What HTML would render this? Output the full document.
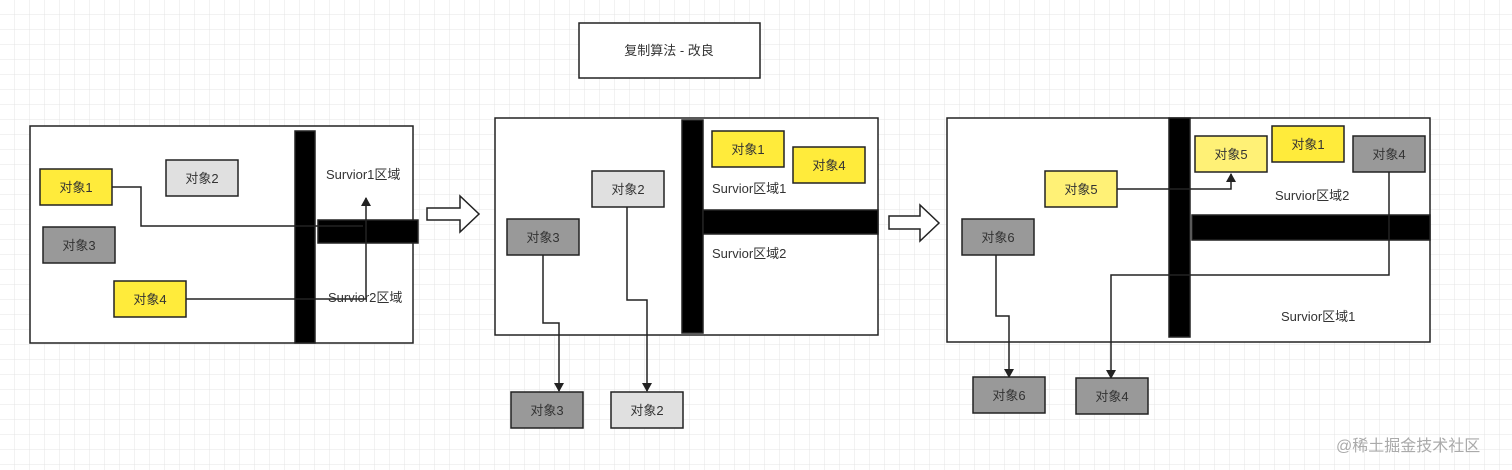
<!DOCTYPE html>
<html><head><meta charset="utf-8"><style>
html,body{margin:0;padding:0;width:1512px;height:470px;overflow:hidden;background:#fff;}
svg{display:block}
text{font-family:"Liberation Sans","Noto Sans CJK SC",sans-serif;font-size:13px;fill:#333;}
</style></head><body>
<svg width="1512" height="470" xmlns="http://www.w3.org/2000/svg">
<defs>
<pattern id="g" width="15" height="15" patternUnits="userSpaceOnUse">
<path d="M15 0V15H0" fill="none" stroke="#e4e4e4" stroke-width="1"/>
</pattern>
<marker id="a" markerWidth="10" markerHeight="10" refX="8" refY="5" orient="auto" markerUnits="userSpaceOnUse">
<path d="M0,0 L9,5 L0,10 Z" fill="#222"/>
</marker>
</defs>
<rect width="1512" height="470" fill="url(#g)"/>
<g stroke="#222" stroke-width="1.5">
<!-- title -->
<rect x="579" y="23" width="181" height="55" fill="#fff"/>
<!-- panel 1 -->
<rect x="30" y="126" width="383" height="217" fill="#fff"/>
<rect x="295" y="131" width="20" height="212" fill="#000"/>
<rect x="318" y="220" width="100" height="23" fill="#000"/>
<rect x="40" y="169" width="72" height="36" fill="#ffeb3b"/>
<rect x="166" y="160" width="72" height="36" fill="#e0e0e0"/>
<rect x="43" y="227" width="72" height="36" fill="#999"/>
<rect x="114" y="281" width="72" height="36" fill="#ffeb3b"/>
<path d="M112,187H141V226H363" fill="none"/>
<path d="M186,299H366V198" fill="none" marker-end="url(#a)"/>
<!-- arrows -->
<path d="M427,208H460V196L479,214L460,232V220H427Z" fill="#fff"/>
<path d="M889,216H920V205L939,223L920,241V229H889Z" fill="#fff"/>
<!-- panel 2 -->
<rect x="495" y="118" width="383" height="217" fill="#fff"/>
<rect x="682" y="120" width="21" height="213" fill="#000"/>
<rect x="703" y="210" width="175" height="24" fill="#000"/>
<rect x="712" y="131" width="72" height="36" fill="#ffeb3b"/>
<rect x="793" y="147" width="72" height="36" fill="#ffeb3b"/>
<rect x="592" y="171" width="72" height="36" fill="#e0e0e0"/>
<rect x="507" y="219" width="72" height="36" fill="#999"/>
<path d="M543,255V323H559V391" fill="none" marker-end="url(#a)"/>
<path d="M627,207V300H647V391" fill="none" marker-end="url(#a)"/>
<rect x="511" y="392" width="72" height="36" fill="#999"/>
<rect x="611" y="392" width="72" height="36" fill="#e0e0e0"/>
<!-- panel 3 -->
<rect x="947" y="118" width="483" height="224" fill="#fff"/>
<rect x="1169" y="118" width="21" height="219" fill="#000"/>
<rect x="1192" y="215" width="238" height="25" fill="#000"/>
<rect x="1195" y="136" width="72" height="36" fill="#fff176"/>
<rect x="1272" y="126" width="72" height="36" fill="#ffeb3b"/>
<rect x="1353" y="136" width="72" height="36" fill="#999"/>
<rect x="1045" y="171" width="72" height="36" fill="#fff176"/>
<rect x="962" y="219" width="72" height="36" fill="#999"/>
<path d="M1117,189H1231V174" fill="none" marker-end="url(#a)"/>
<path d="M996,255V316H1009V377" fill="none" marker-end="url(#a)"/>
<path d="M1389,172V275H1111V378" fill="none" marker-end="url(#a)"/>
<rect x="973" y="377" width="72" height="36" fill="#999"/>
<rect x="1076" y="378" width="72" height="36" fill="#999"/>
</g>
<g text-anchor="middle">
<text x="669" y="55">复制算法 - 改良</text>
<text x="76" y="192">对象1</text>
<text x="202" y="183">对象2</text>
<text x="79" y="250">对象3</text>
<text x="150" y="304">对象4</text>
<text x="748" y="154">对象1</text>
<text x="829" y="170">对象4</text>
<text x="628" y="194">对象2</text>
<text x="543" y="242">对象3</text>
<text x="547" y="415">对象3</text>
<text x="647" y="415">对象2</text>
<text x="1231" y="159">对象5</text>
<text x="1308" y="149">对象1</text>
<text x="1389" y="159">对象4</text>
<text x="1081" y="194">对象5</text>
<text x="998" y="242">对象6</text>
<text x="1009" y="400">对象6</text>
<text x="1112" y="401">对象4</text>
</g>
<text x="326" y="179">Survior1区域</text>
<text x="328" y="302">Survior2区域</text>
<text x="712" y="193">Survior区域1</text>
<text x="712" y="258">Survior区域2</text>
<text x="1275" y="200">Survior区域2</text>
<text x="1281" y="321">Survior区域1</text>
<text x="1336" y="451" style="font-size:16px;fill:#aaa">@稀土掘金技术社区</text>
</svg>
</body></html>
